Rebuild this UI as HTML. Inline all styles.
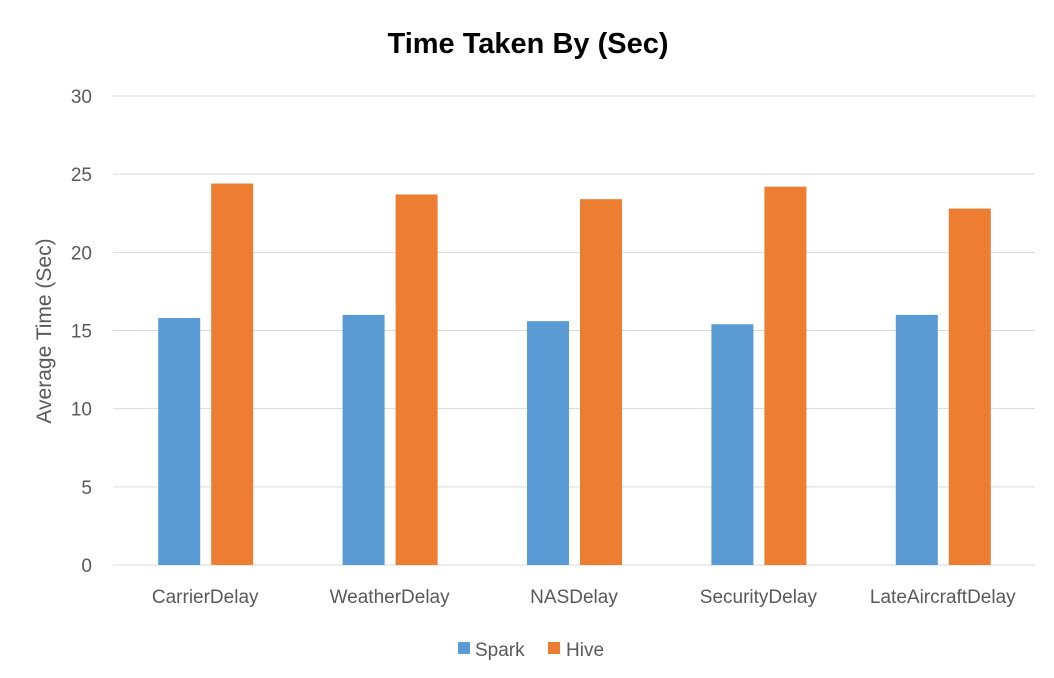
<!DOCTYPE html>
<html><head><meta charset="utf-8"><style>
body{margin:0;background:#fff;}
svg{display:block;font-family:"Liberation Sans",sans-serif;}
</style></head><body>
<svg id="chart" width="1054" height="678">
<text x="528" y="53" text-anchor="middle" font-size="29" font-weight="bold" fill="#000">Time Taken By (Sec)</text>
<text transform="translate(51,331) rotate(-90)" text-anchor="middle" font-size="21" fill="#595959">Average Time (Sec)</text>
<g id="grid"></g><g id="bars"></g><g id="labels"></g>
<g>
<rect x="458" y="642" width="12" height="12" fill="#5b9bd5"/>
<text x="475" y="656" font-size="19" fill="#595959">Spark</text>
<rect x="548" y="642" width="12" height="12" fill="#ed7d31"/>
<text x="566" y="656" font-size="19" fill="#595959">Hive</text>
</g>
</svg>
<script>
const categories=["CarrierDelay","WeatherDelay","NASDelay","SecurityDelay","LateAircraftDelay"];
const spark=[15.8,16.0,15.6,15.4,16.0];
const hive=[24.4,23.7,23.4,24.2,22.8];
const ticks=[0,5,10,15,20,25,30];
const NS="http://www.w3.org/2000/svg";
const x0=113,x1=1035,yB=565,yT=96,maxV=30;
const y=v=>yB-(yB-yT)*v/maxV;
const bw=(x1-x0)/categories.length;
function mk(t,a,p){const e=document.createElementNS(NS,t);for(const k in a)e.setAttribute(k,a[k]);p.appendChild(e);return e;}
const g=document.getElementById('grid'),b=document.getElementById('bars'),l=document.getElementById('labels');
ticks.forEach(t=>{
 const ln=mk('line',{x1:x0,x2:x1,y1:y(t),y2:y(t),stroke:'#d9d9d9','stroke-width':1},g);
 
 
 const tx=mk('text',{x:92,y:y(t)+7,'text-anchor':'end','font-size':19,fill:'#595959'},l);
 tx.textContent=t;
 
 
});
categories.forEach((c,i)=>{
 const cx=x0+bw*(i+0.5);
 const r1=mk('rect',{x:cx-47,y:y(spark[i]),width:42,height:yB-y(spark[i]),fill:'#5b9bd5'},b);
 
 
 const r2=mk('rect',{x:cx+6,y:y(hive[i]),width:42,height:yB-y(hive[i]),fill:'#ed7d31'},b);
 
 
 const tx=mk('text',{x:cx,y:603,'text-anchor':'middle','font-size':19,fill:'#595959'},l);
 tx.textContent=c;
 
 
});
</script>
</body></html>
